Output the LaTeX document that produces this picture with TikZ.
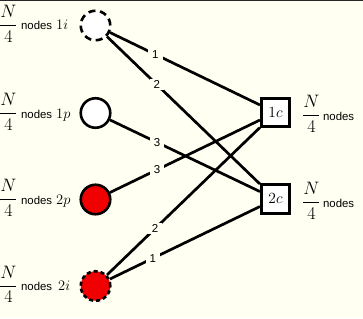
\RequirePackage{fix-cm}
\documentclass[tikz,border=0pt]{standalone}
\usepackage{fontspec}
\setsansfont{Liberation Sans}
\definecolor{bg}{RGB}{255,255,242}
\definecolor{nodered}{RGB}{240,0,0}
\newcommand\sidelabel[2][4pt]{{\fontsize{18}{18}\selectfont$\displaystyle\frac{N}{4}$}\hspace{3.5pt}{\sffamily\fontsize{11.4}{12}\selectfont nodes}\hspace{#1}{\fontsize{14.5}{14.5}\selectfont$#2$}}
\newcommand\rightlabel{{\fontsize{18}{18}\selectfont$\displaystyle\frac{N}{4}$}\hspace{2.5pt}{\sffamily\fontsize{11.4}{12}\selectfont nodes}}
\begin{document}
\begin{tikzpicture}[x=1pt,y=-1pt,
  vert/.style={circle, draw=black, line width=2.6pt, minimum size=29.5pt, inner sep=0pt, fill=white},
  ivert/.style={vert, dash pattern=on 7pt off 4.6pt},
  redvert/.style={vert, fill=nodered},
  iredvert/.style={redvert, dash pattern=on 4pt off 3pt},
  cbox/.style={rectangle, draw=black, line width=2.6pt, minimum size=28.5pt, inner sep=0pt, fill=white, font=\fontsize{15.5}{15.5}\selectfont},
  edge/.style={line width=2.7pt},
  lbl/.style={fill=bg, inner xsep=4pt, inner ysep=1.5pt, font=\sffamily\fontsize{11.5}{11.5}\selectfont},
  txt/.style={inner sep=0pt, anchor=base west}]
\fill[bg] (0,0) rectangle (363,318);
\fill[black!85] (0,0) rectangle (363,1.3);
\useasboundingbox (0,0) rectangle (363,318);

\node[ivert] (i1) at (95.5,25.5) {};
\node[vert] (p1) at (95.5,113) {};
\node[redvert] (p2) at (95.5,199.5) {};
\node[iredvert] (i2) at (95.5,286) {};
\node[cbox] (c1) at (275.5,112.5) {$1c$};
\node[cbox] (c2) at (275.5,199) {$2c$};

\node[txt] (t1) at (-1,30) {\sidelabel{1i}};
\node[txt] (t2) at (-1,118) {\sidelabel{1p}};
\node[txt] (t3) at (-1,204) {\sidelabel{2p}};
\node[txt] (t4) at (-1,290.5) {\sidelabel[6pt]{2i}};
\node[txt] (t5) at (302,120) {\rightlabel};
\node[txt] (t6) at (302,207) {\rightlabel};

\draw[edge] (i1) -- (c1);
\draw[edge] (i1) -- (c2);
\draw[edge] (p1) -- (c2);
\draw[edge] (p2) -- (c1);
\draw[edge] (i2) -- (c1);
\draw[edge] (i2) -- (c2);

\path (i1.center) -- (c1.center) node[lbl,pos=0.333] (e1) {1};
\path (i1.center) -- (c2.center) node[lbl,pos=0.34] (e2) {2};
\path (p1.center) -- (c2.center) node[lbl,pos=0.342] (e3) {3};
\path (p2.center) -- (c1.center) node[lbl,pos=0.342] (e4) {3};
\path (i2.center) -- (c1.center) node[lbl,pos=0.331] (e5) {2};
\path (i2.center) -- (c2.center) node[lbl,pos=0.319] (e6) {1};
\end{tikzpicture}
\end{document}
